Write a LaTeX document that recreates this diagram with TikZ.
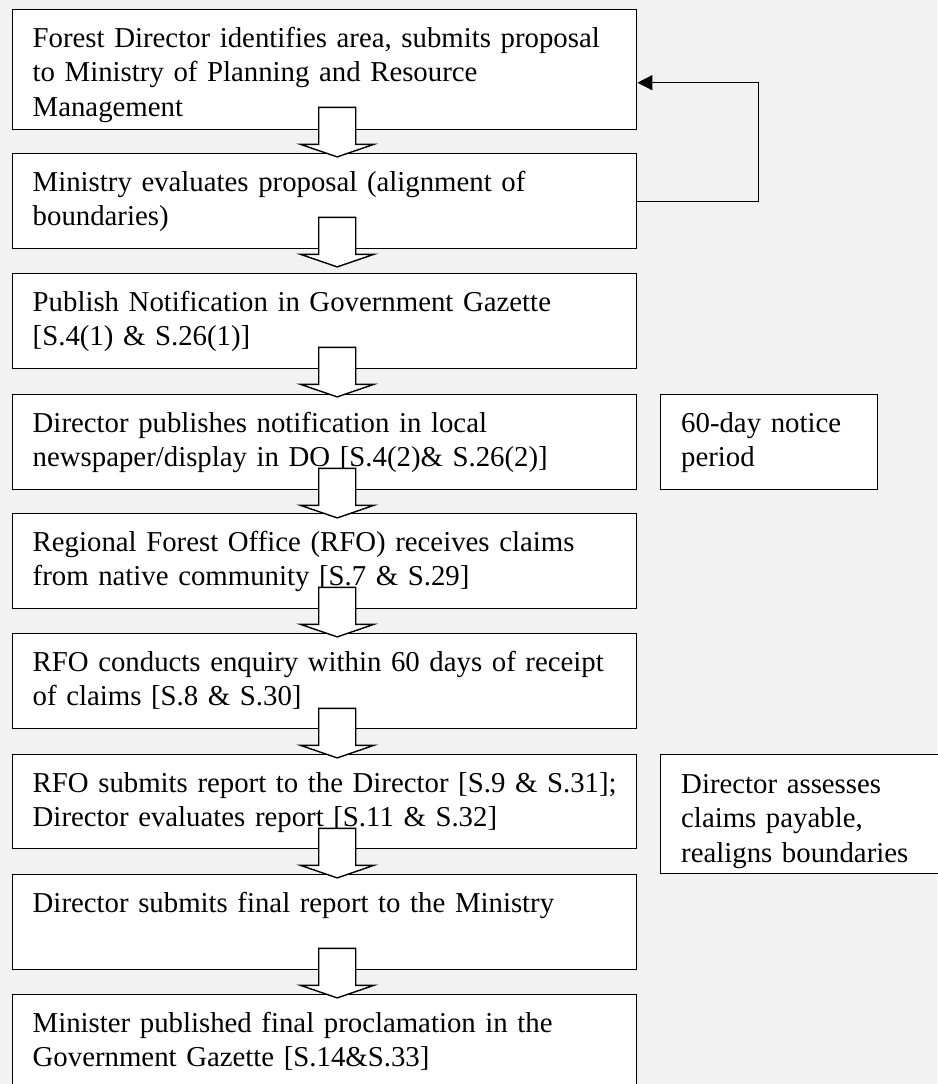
\documentclass[tikz,border=0pt]{standalone}
\usepackage{fontspec}
\setmainfont{Liberation Serif}
\usetikzlibrary{calc,arrows.meta}
\definecolor{pagegray}{HTML}{F2F2F2}
\begin{document}
\begin{tikzpicture}[x=1pt,y=-1pt,
  stepbox/.style 2 args={draw=black, line width=1.4pt, fill=white,
    anchor=north west, inner sep=0pt, minimum width=#1, minimum height=#2},
  steptext/.style={anchor=north west, inner sep=0pt, text width=610pt,
    align=left, font=\fontsize{28.8}{34.5}\selectfont,
    execute at begin node=\strut},
  loopline/.style={draw=black, line width=1.4pt,
    -{Triangle[length=15pt,width=15pt]}},
  blockarrow/.pic={
    \draw[line width=1.4pt, fill=white, line join=miter]
      (-18.5,0) -- (18.5,0) -- (18.5,37) -- (36.5,37) -- (0,49.5)
      -- (-36.5,37) -- (-18.5,37) -- cycle;
  }]
% page
\fill[pagegray] (0,0) rectangle (937,1084);
\useasboundingbox (0,0) rectangle (937,1084);

% main column of steps
\node[stepbox={624pt}{120pt}] (b1) at (12,9) {};
\node[stepbox={624pt}{95pt}]  (b2) at (12,153) {};
\node[stepbox={624pt}{95pt}]  (b3) at (12,273) {};
\node[stepbox={624pt}{95pt}]  (b4) at (12,394) {};
\node[stepbox={624pt}{95pt}]  (b5) at (12,513) {};
\node[stepbox={624pt}{95pt}]  (b6) at (12,633) {};
\node[stepbox={624pt}{94pt}]  (b7) at (12,754) {};
\node[stepbox={624pt}{95pt}]  (b8) at (12,874) {};
\node[stepbox={624pt}{95pt}]  (b9) at (12,994) {};

% side notes
\node[stepbox={217pt}{95pt}]  (s1) at (660,394) {};
\node[stepbox={340pt}{119pt}] (s2) at (660,754) {};

% texts
\node[steptext] (t1) at ($(b1.north west)+(20.5,13.85)$)
  {Forest Director identifies area, submits proposal\\to Ministry of Planning and Resource\\Management};
\node[steptext] (t2) at ($(b2.north west)+(20.5,13.85)$)
  {Ministry evaluates proposal (alignment of\\boundaries)};
\node[steptext] (t3) at ($(b3.north west)+(20.5,13.85)$)
  {Publish Notification in Government Gazette\\{[}S.4(1) \& S.26(1)]};
\node[steptext] (t4) at ($(b4.north west)+(20.5,13.85)$)
  {Director publishes notification in local\\newspaper/display in DO [S.4(2)\& S.26(2)]};
\node[steptext] (t5) at ($(b5.north west)+(20.5,13.85)$)
  {Regional Forest Office (RFO) receives claims\\from native community [S.7 \& S.29]};
\node[steptext] (t6) at ($(b6.north west)+(20.5,13.85)$)
  {RFO conducts enquiry within 60 days of receipt\\of claims [S.8 \& S.30]};
\node[steptext] (t7) at ($(b7.north west)+(20.5,13.85)$)
  {RFO submits report to the Director [S.9 \& S.31];\\Director evaluates report [S.11 \& S.32]};
\node[steptext] (t8) at ($(b8.north west)+(20.5,13.85)$)
  {Director submits final report to the Ministry};
\node[steptext] (t9) at ($(b9.north west)+(20.5,13.85)$)
  {Minister published final proclamation in the\\Government Gazette [S.14\&S.33]};
\node[steptext] (n1) at ($(s1.north west)+(21,13.85)$)
  {60-day notice\\period};
\node[steptext] (n2) at ($(s2.north west)+(21,14.85)$)
  {Director assesses\\claims payable,\\realigns boundaries};

% feedback from evaluation back to the proposal
\draw[loopline] (b2.east) -- ++(121,0) |- ($(b1.east)+(0,13)$);

% hollow block arrows between consecutive steps
\pic at ($(b1.south)+(12.5,-23)$) {blockarrow};
\pic at ($(b2.south)+(12.5,-32)$) {blockarrow};
\pic at ($(b3.south)+(12.5,-22)$) {blockarrow};
\pic at ($(b4.south)+(12.5,-22)$) {blockarrow};
\pic at ($(b5.south)+(12.5,-22)$) {blockarrow};
\pic at ($(b6.south)+(12.5,-21)$) {blockarrow};
\pic at ($(b7.south)+(12.5,-21)$) {blockarrow};
\pic at ($(b8.south)+(12.5,-22)$) {blockarrow};
\end{tikzpicture}
\end{document}
